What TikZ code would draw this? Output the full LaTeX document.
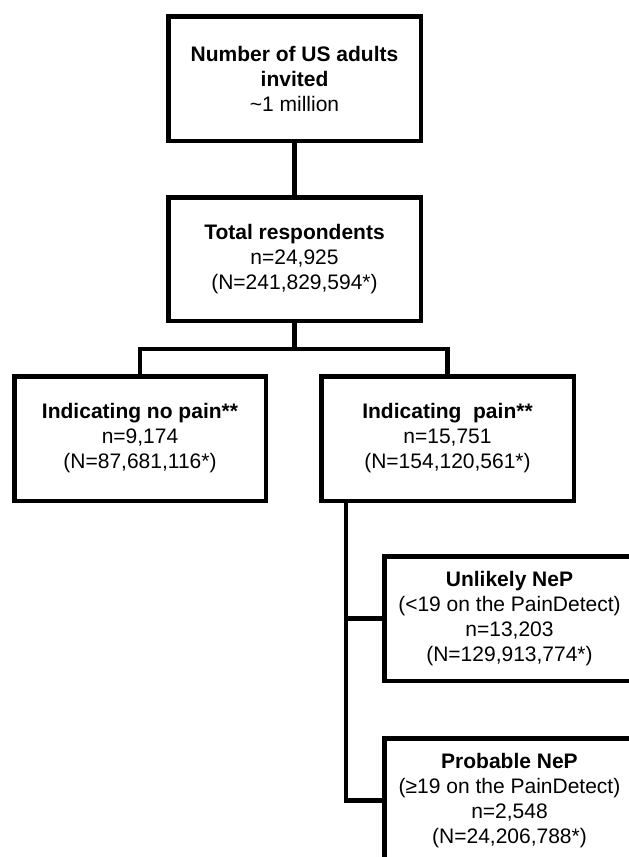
\documentclass[tikz,border=0pt]{standalone}
\usepackage{fontspec}
\setmainfont{Liberation Sans}
\begin{document}
\begin{tikzpicture}[x=1pt,y=-1pt,
  box/.style={draw=black,line width=4.5pt,inner sep=0pt,align=center,
    font=\fontsize{21}{25}\selectfont},
  conn/.style={draw=black,line width=4.5pt}]
\clip (0,0) rectangle (629,857);
\fill[white] (0,0) rectangle (629,857);
\node[box,minimum width=252.5pt,minimum height=124.5pt] (b1) at (294.5,78.5)
  {\textbf{Number of US adults}\\\textbf{invited}\\\textasciitilde1 million};
\node[box,minimum width=252.5pt,minimum height=123.5pt] (b2) at (294.5,259)
  {\textbf{Total respondents}\\n=24,925\\(N=241,829,594*)};
\node[box,minimum width=251.5pt,minimum height=124.5pt] (b3) at (140,438.5)
  {\textbf{Indicating no pain**}\\n=9,174\\(N=87,681,116*)};
\node[box,minimum width=252.5pt,minimum height=124.5pt] (b4) at (447.5,438.5)
  {\textbf{Indicating~ pain**}\\n=15,751\\(N=154,120,561*)};
\node[box,minimum width=250.5pt,minimum height=124.5pt] (un) at (509.5,618.5)
  {\textbf{Unlikely NeP}\\(<19 on the PainDetect)\\n=13,203\\(N=129,913,774*)};
\node[box,minimum width=250.5pt,minimum height=124.5pt] (pr) at (509.5,800.5)
  {\textbf{Probable NeP}\\(≥19 on the PainDetect)\\n=2,548\\(N=24,206,788*)};
\coordinate (j) at (294.5,349);
\coordinate (tk) at (346,503);
\draw[conn] (b1.south) -- (b2.north);
\draw[conn] (b2.south) -- (j);
\draw[conn] (b3.north) |- (j) -| (b4.north);
\draw[conn] (b4.south -| tk) -- (tk |- pr.west) -- (pr.west);
\draw[conn] (tk |- un.west) -- (un.west);
\end{tikzpicture}
\end{document}
